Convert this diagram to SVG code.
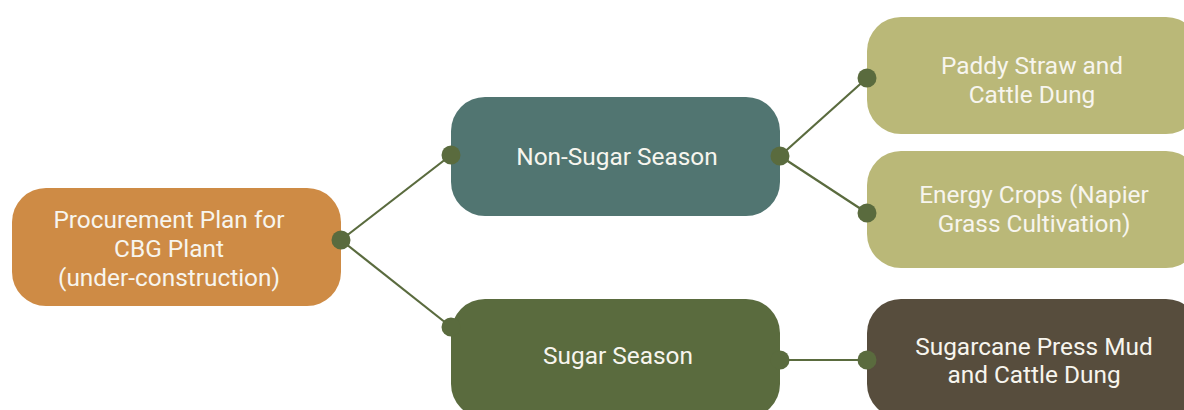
<svg xmlns="http://www.w3.org/2000/svg" width="1184" height="410" viewBox="0 0 1184 410">
<style>
.t{font-family:Roboto,"Liberation Sans",sans-serif;font-size:24.4px;fill:#F7F5EE;text-anchor:middle}
.c{stroke:#5A6B3E;stroke-width:2.2;fill:none}
.d{fill:#5A6B3E}
</style>
<rect width="1184" height="410" fill="#FFFFFF"/>
<g id="connectors">
<line class="c" x1="341" y1="240" x2="451" y2="155"/>
<line class="c" x1="341" y1="240" x2="451" y2="327"/>
<line class="c" x1="780" y1="156" x2="867" y2="78"/>
<line class="c" x1="780" y1="156" x2="867" y2="213"/>
<line class="c" x1="780" y1="360" x2="867" y2="360"/>
</g>
<g id="procurement">
<rect x="12" y="188" width="329" height="118" rx="34" fill="#CE8B45"/>
<text class="t" x="169" y="228">Procurement Plan for</text>
<text class="t" x="169" y="257">CBG Plant</text>
<text class="t" x="169" y="286">(under-construction)</text>
</g>
<g id="nonsugar">
<rect x="451" y="97" width="329" height="119" rx="34" fill="#517571"/>
<text class="t" x="617" y="165">Non-Sugar Season</text>
</g>
<g id="sugar">
<rect x="451" y="299" width="329" height="119" rx="34" fill="#5A6B3E"/>
<text class="t" x="618" y="364">Sugar Season</text>
</g>
<g id="paddy">
<rect x="867" y="17" width="333" height="117" rx="34" fill="#BAB878"/>
<text class="t" x="1032" y="74">Paddy Straw and</text>
<text class="t" x="1032" y="103">Cattle Dung</text>
</g>
<g id="energy">
<rect x="867" y="151" width="333" height="117" rx="34" fill="#BAB878"/>
<text class="t" x="1034" y="203">Energy Crops (Napier</text>
<text class="t" x="1034" y="232">Grass Cultivation)</text>
</g>
<g id="pressmud">
<rect x="867" y="299" width="333" height="119" rx="34" fill="#574D3D"/>
<text class="t" x="1034" y="355">Sugarcane Press Mud</text>
<text class="t" x="1034" y="383">and Cattle Dung</text>
</g>
<g id="dots">
<circle class="d" cx="341" cy="240" r="9.5"/>
<circle class="d" cx="451" cy="155" r="9.5"/>
<circle class="d" cx="780" cy="156" r="9.5"/>
<circle class="d" cx="451" cy="327" r="9.5"/>
<circle class="d" cx="780" cy="360" r="9.5"/>
<circle class="d" cx="867" cy="78" r="9.5"/>
<circle class="d" cx="867" cy="213" r="9.5"/>
<circle class="d" cx="867" cy="360" r="9.5"/>
</g>
</svg>
